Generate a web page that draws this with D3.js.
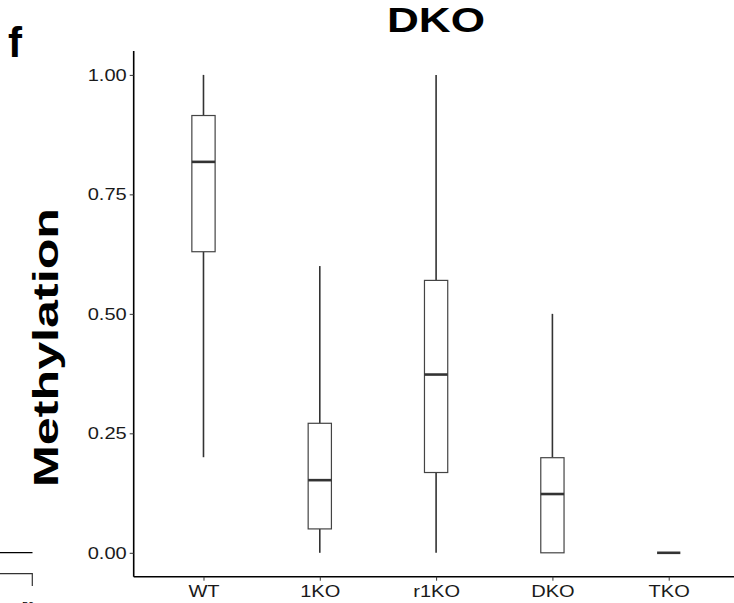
<!DOCTYPE html>
<html>
<head>
<meta charset="utf-8">
<script src="https://cdn.jsdelivr.net/npm/d3@7"></script>
<style>
  body { margin: 0; background: #fff; }
  svg text { font-family: "Liberation Sans", Arial, sans-serif; }
</style>
</head>
<body>
<svg id="chart" width="734" height="603"></svg>
<script>
// box plot values
const categories  = ["WT", "1KO", "r1KO", "DKO", "TKO"];
const whiskerLow  = [0.20, 0.00, 0.00, 0.00, 0.00];
const q1          = [0.63, 0.05, 0.168, 0.00, 0.00];
const median      = [0.818, 0.152, 0.373, 0.123, 0.00];
const q3          = [0.915, 0.271, 0.570, 0.199, 0.00];
const whiskerHigh = [1.00, 0.60, 1.00, 0.50, 0.00];
const yTicks      = [0, 0.25, 0.5, 0.75, 1];

const svg = d3.select("#chart");

// plot area
const plotLeft = 133.7, plotRight = 738.5, plotTop = 51, plotBottom = 576.7;

const x = d3.scalePoint()
    .domain(categories)
    .range([plotLeft, plotRight])
    .padding(0.6);

const y = d3.scaleLinear()
    .domain([-0.05, 1.05])
    .range([plotBottom, plotTop]);

const boxW = x.step() * 0.2;

const rows = categories.map((c, i) => ({
    cat: c, lo: whiskerLow[i], q1: q1[i], med: median[i], q3: q3[i], hi: whiskerHigh[i]
}));

// whiskers
const g = svg.append("g");
g.selectAll(".whisk-up").data(rows).join("line")
    .attr("class", "whisk-up")
    .attr("x1", d => x(d.cat)).attr("x2", d => x(d.cat))
    .attr("y1", d => y(d.q3)).attr("y2", d => y(d.hi))
    .attr("stroke", "#333").attr("stroke-width", 1.6);
g.selectAll(".whisk-lo").data(rows).join("line")
    .attr("class", "whisk-lo")
    .attr("x1", d => x(d.cat)).attr("x2", d => x(d.cat))
    .attr("y1", d => y(d.q1)).attr("y2", d => y(d.lo))
    .attr("stroke", "#333").attr("stroke-width", 1.6);

// boxes
g.selectAll(".box").data(rows.filter(d => d.q3 > d.q1)).join("rect")
    .attr("class", "box")
    .attr("x", d => x(d.cat) - boxW / 2)
    .attr("y", d => y(d.q3))
    .attr("width", boxW)
    .attr("height", d => y(d.q1) - y(d.q3))
    .attr("fill", "#fff")
    .attr("stroke", "#444")
    .attr("stroke-width", 1.2);

// medians
g.selectAll(".med").data(rows).join("line")
    .attr("class", "med")
    .attr("x1", d => x(d.cat) - boxW / 2).attr("x2", d => x(d.cat) + boxW / 2)
    .attr("y1", d => y(d.med)).attr("y2", d => y(d.med))
    .attr("stroke", "#333").attr("stroke-width", 2.6);

// y axis
const yAxis = svg.append("g")
    .attr("transform", `translate(${plotLeft},0)`)
    .call(d3.axisLeft(y).tickValues(yTicks).tickFormat(d3.format(".2f")).tickSize(4).tickPadding(3));
yAxis.select(".domain").attr("stroke", "#000").attr("stroke-width", 1.6)
    .attr("d", `M0,${plotBottom}V${plotTop}`);
yAxis.selectAll(".tick line").attr("stroke", "#333").attr("stroke-width", 1);
yAxis.selectAll(".tick text")
    .attr("font-size", 17).attr("fill", "#1a1a1a")
    .attr("font-family", "Liberation Sans, Arial, sans-serif")
    .attr("textLength", 39).attr("lengthAdjust", "spacingAndGlyphs");

// x axis
const xAxis = svg.append("g")
    .attr("transform", `translate(0,${plotBottom})`)
    .call(d3.axisBottom(x).tickSize(4).tickPadding(4));
xAxis.select(".domain").attr("stroke", "#000").attr("stroke-width", 1.6)
    .attr("d", `M${plotLeft},0H734`);
xAxis.selectAll(".tick line").attr("stroke", "#333").attr("stroke-width", 1);
xAxis.selectAll(".tick text")
    .attr("font-size", 17).attr("fill", "#1a1a1a")
    .attr("font-family", "Liberation Sans, Arial, sans-serif")
    .each(function () {
        const w = this.getComputedTextLength();
        d3.select(this).attr("textLength", w * 1.18).attr("lengthAdjust", "spacingAndGlyphs");
    });

// title
svg.append("text")
    .attr("x", 436).attr("y", 32)
    .attr("text-anchor", "middle")
    .attr("font-size", 35).attr("font-weight", "bold")
    .attr("textLength", 98).attr("lengthAdjust", "spacingAndGlyphs")
    .text("DKO");

// y label
svg.append("text")
    .attr("transform", "translate(58,347.5) rotate(-90)")
    .attr("text-anchor", "middle")
    .attr("font-size", 35).attr("font-weight", "bold")
    .attr("textLength", 279).attr("lengthAdjust", "spacingAndGlyphs")
    .text("Methylation");

// panel letter
svg.append("text")
    .attr("x", 8).attr("y", 57)
    .attr("font-size", 42).attr("font-weight", "bold")
    .text("f");

// bits of the neighbouring panel showing at the bottom left
svg.append("line").attr("x1", 0).attr("x2", 32.5).attr("y1", 552.7).attr("y2", 552.7)
    .attr("stroke", "#000").attr("stroke-width", 1.2);
svg.append("path").attr("d", "M0,573.7H32.3V586")
    .attr("fill", "none").attr("stroke", "#333").attr("stroke-width", 1.2);
svg.append("text").attr("x", 22).attr("y", 610).attr("font-size", 11).text("50");
</script>
</body>
</html>
